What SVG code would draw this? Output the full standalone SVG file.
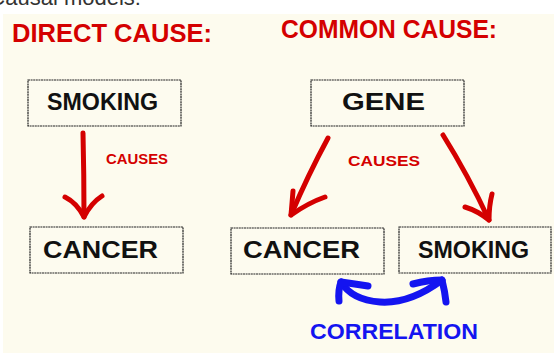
<svg xmlns="http://www.w3.org/2000/svg" width="554" height="353" viewBox="0 0 554 353">
<style>
.box{fill:#FDFBEF;stroke:#222;stroke-width:1.2;stroke-dasharray:2 0.6}
.lbl{font-family:"Liberation Sans","DejaVu Sans",sans-serif;font-weight:bold;fill:#111;font-size:23px}
.red{fill:#D40000;font-family:"Liberation Sans","DejaVu Sans",sans-serif;font-weight:bold}
.ra{fill:none;stroke:#D40000;stroke-width:5;stroke-linecap:round;stroke-linejoin:round}
.ba{fill:none;stroke:#1414F0;stroke-width:7;stroke-linecap:round;stroke-linejoin:round}
</style>
<rect x="0" y="0" width="554" height="353" fill="#FFFFFF"/>
<rect x="3" y="14" width="551" height="339" fill="#FDFBEE"/>
<text x="141" y="5" text-anchor="end" font-family="Liberation Sans, sans-serif" font-size="22" fill="#333">Causal models:</text>
<text class="red" x="12" y="42" font-size="25" textLength="200" lengthAdjust="spacingAndGlyphs">DIRECT CAUSE:</text>
<text class="red" x="281" y="38" font-size="25" textLength="216" lengthAdjust="spacingAndGlyphs">COMMON CAUSE:</text>
<g id="connectors">
<path class="ra" d="M83,133 Q84,175 84,217"/>
<path class="ra" d="M65,197 Q77,203 84,217 Q91,203 102,196"/>
<path class="ra" d="M328,138 Q308,175 291,215"/>
<path class="ra" d="M293,191 Q292,204 291,215 Q308,203 325,197"/>
<path class="ra" d="M443,135 Q468,175 489,220"/>
<path class="ra" d="M465,207 Q478,211 489,220 Q489,206 492,194"/>
<path class="ba" d="M341,282 Q352,300 380,302 Q410,304 442,280"/>
<path class="ba" d="M339,301 Q338,290 341,282 Q355,284 368,286"/>
<path class="ba" d="M413,284 Q428,280 442,280 Q445,292 446,302"/>
<text class="red" x="106" y="164" font-size="15" textLength="62" lengthAdjust="spacingAndGlyphs">CAUSES</text>
<text class="red" x="348" y="166" font-size="15" textLength="72" lengthAdjust="spacingAndGlyphs">CAUSES</text>
<text x="310" y="339" font-family="Liberation Sans, DejaVu Sans, sans-serif" font-weight="bold" font-size="22" fill="#1414F0" textLength="168" lengthAdjust="spacingAndGlyphs">CORRELATION</text>
</g>
<g id="direct-smoking"><rect class="box" x="28" y="80" width="153" height="46"/><text class="lbl" x="47" y="110" textLength="111" lengthAdjust="spacingAndGlyphs">SMOKING</text></g>
<g id="direct-cancer"><rect class="box" x="30" y="227" width="153" height="46"/><text class="lbl" x="43" y="258" textLength="115" lengthAdjust="spacingAndGlyphs">CANCER</text></g>
<g id="gene"><rect class="box" x="311" y="80" width="153" height="46"/><text class="lbl" x="342" y="110" textLength="83" lengthAdjust="spacingAndGlyphs">GENE</text></g>
<g id="common-cancer"><rect class="box" x="231" y="228" width="153" height="46"/><text class="lbl" x="243" y="258" textLength="117" lengthAdjust="spacingAndGlyphs">CANCER</text></g>
<g id="common-smoking"><rect class="box" x="399" y="227" width="152" height="46"/><text class="lbl" x="418" y="258" textLength="111" lengthAdjust="spacingAndGlyphs">SMOKING</text></g>
</svg>
